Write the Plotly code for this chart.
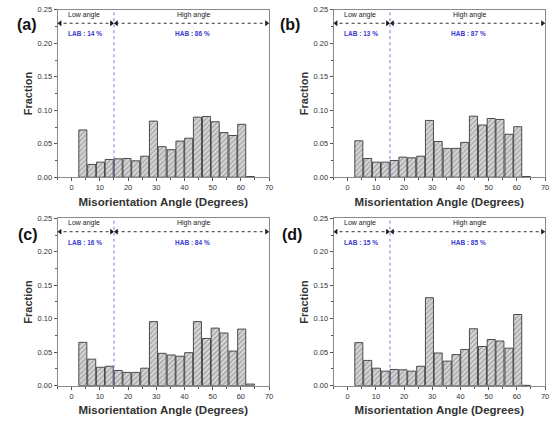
import plotly.graph_objects as go

# ---- data ----
bin_centers = [3.95, 7.1, 10.2, 13.3, 16.5, 19.6, 22.7, 25.9, 29.0, 32.1,
               35.3, 38.4, 41.5, 44.6, 47.8, 50.9, 54.0, 57.2, 60.3, 63.4]
frac_a = [0.0706, 0.0191, 0.0225, 0.0265, 0.0275, 0.0280, 0.0245, 0.0314, 0.0838, 0.0456,
          0.0412, 0.0540, 0.0583, 0.0897, 0.0907, 0.0828, 0.0667, 0.0623, 0.0790, 0.0010]
frac_b = [0.0544, 0.0280, 0.0225, 0.0225, 0.0250, 0.0300, 0.0290, 0.0314, 0.0848, 0.0534,
          0.0431, 0.0431, 0.0520, 0.0912, 0.0780, 0.0877, 0.0863, 0.0642, 0.0755, 0.0010]
frac_c = [0.0647, 0.0396, 0.0275, 0.0290, 0.0227, 0.0198, 0.0198, 0.0261, 0.0957, 0.0483,
          0.0459, 0.0440, 0.0493, 0.0957, 0.0705, 0.0860, 0.0787, 0.0517, 0.0845, 0.0024]
frac_d = [0.0643, 0.0377, 0.0261, 0.0217, 0.0242, 0.0237, 0.0217, 0.0290, 0.1314, 0.0488,
          0.0367, 0.0464, 0.0541, 0.0850, 0.0585, 0.0690, 0.0667, 0.0560, 0.1063, 0.0005]
panel_labels = ["(a)", "(b)", "(c)", "(d)"]
lab_pct = [14, 13, 16, 15]
hab_pct = [86, 87, 84, 85]
boundary_angle = 15
x_range = [-5, 70]
y_range = [0, 0.25]
x_ticks = [0, 10, 20, 30, 40, 50, 60, 70]
y_ticks = [0.00, 0.05, 0.10, 0.15, 0.20, 0.25]

series = [frac_a, frac_b, frac_c, frac_d]

W, H = 557, 421
# plot-area pixel boxes (left, right, top, bottom)
boxes = [(58, 271, 6, 177), (336, 549, 6, 177),
         (58, 271, 219, 390), (336, 549, 219, 390)]
label_pos = [(15, 10), (292, 10), (16, 236), (294, 236)]

FONT = "Liberation Sans, Arial, sans-serif"
fig = go.Figure()
layout = dict(width=W, height=H, margin=dict(l=0, r=0, t=0, b=0),
              paper_bgcolor="white", plot_bgcolor="white", showlegend=False,
              font=dict(family=FONT, color="#222"))
shapes, annotations = [], []

for i, vals in enumerate(series):
    n = i + 1
    xa = "x" if n == 1 else f"x{n}"
    ya = "y" if n == 1 else f"y{n}"
    L, R, T, B = boxes[i]
    fig.add_trace(go.Bar(
        x=bin_centers, y=vals, width=2.85, xaxis=xa, yaxis=ya,
        marker=dict(color="#d0d0d0",
                    line=dict(color="#3a3a3a", width=0.9),
                    pattern=dict(shape="/", size=3.5, solidity=0.35,
                                 fgcolor="#666666", bgcolor="#d8d8d8")),
    ))
    # arrowheads
    fig.add_trace(go.Scatter(
        x=[x_range[0] + 0.9, boundary_angle - 0.9, boundary_angle + 0.9, x_range[1] - 0.9],
        y=[0.23] * 4, mode="markers", xaxis=xa, yaxis=ya, cliponaxis=False,
        marker=dict(symbol=["triangle-left", "triangle-right", "triangle-left", "triangle-right"],
                    size=5, color="#111"),
        hoverinfo="skip"))
    ax_common = dict(showline=True, mirror=True, linecolor="#8a8a8a", linewidth=1,
                     ticks="outside", ticklen=3, tickcolor="#555", showgrid=False,
                     zeroline=False, tickfont=dict(size=7.5, color="#333", family=FONT))
    layout["xaxis" if n == 1 else f"xaxis{n}"] = dict(
        ax_common, domain=[L / W, R / W], anchor=ya, range=x_range,
        tickvals=x_ticks, minor=dict(ticks="outside", ticklen=2, dtick=5, tickcolor="#555"),
        title=dict(text="<b>Misorientation Angle (Degrees)</b>", standoff=6,
                   font=dict(size=11.5, color="#333", family=FONT)))
    layout["yaxis" if n == 1 else f"yaxis{n}"] = dict(
        ax_common, domain=[1 - B / H, 1 - T / H], anchor=xa, range=y_range,
        tickvals=y_ticks, tickformat=".2f",
        minor=dict(ticks="outside", ticklen=2, dtick=0.025, tickcolor="#555"),
        title=dict(text="<b>Fraction</b>", standoff=2,
                   font=dict(size=11, color="#333", family=FONT)))
    # vertical boundary line
    shapes.append(dict(type="line", xref=xa, yref=ya, x0=boundary_angle, x1=boundary_angle,
                       y0=y_range[0], y1=y_range[1],
                       line=dict(color="#5858d0", width=0.8, dash="dot")))
    # dotted horizontal arrows
    shapes.append(dict(type="line", xref=xa, yref=ya, x0=x_range[0], x1=boundary_angle - 0.6,
                       y0=0.23, y1=0.23, line=dict(color="#333", width=1, dash="dot")))
    shapes.append(dict(type="line", xref=xa, yref=ya, x0=boundary_angle + 0.6, x1=x_range[1],
                       y0=0.23, y1=0.23, line=dict(color="#333", width=1, dash="dot")))
    annotations += [
        dict(x=4.5, y=0.2425, xref=xa, yref=ya, text="Low angle", showarrow=False,
             font=dict(size=7, color="#222", family=FONT)),
        dict(x=43.5, y=0.2425, xref=xa, yref=ya, text="High angle", showarrow=False,
             font=dict(size=7, color="#222", family=FONT)),
        dict(x=4.6, y=0.214, xref=xa, yref=ya, text=f"<b>LAB : {lab_pct[i]} %</b>",
             showarrow=False, font=dict(size=6.5, color="#3a3ad0", family=FONT)),
        dict(x=43, y=0.214, xref=xa, yref=ya, text=f"<b>HAB : {hab_pct[i]} %</b>",
             showarrow=False, font=dict(size=6.5, color="#3a3ad0", family=FONT)),
        dict(x=label_pos[i][0] / W, y=1 - label_pos[i][1] / H, xref="paper", yref="paper",
             text=f"<b>{panel_labels[i]}</b>", showarrow=False,
             font=dict(size=16, color="#111", family=FONT)),
    ]

layout["shapes"] = shapes
layout["annotations"] = annotations
fig.update_layout(**layout)
fig.write_html("out.html")
